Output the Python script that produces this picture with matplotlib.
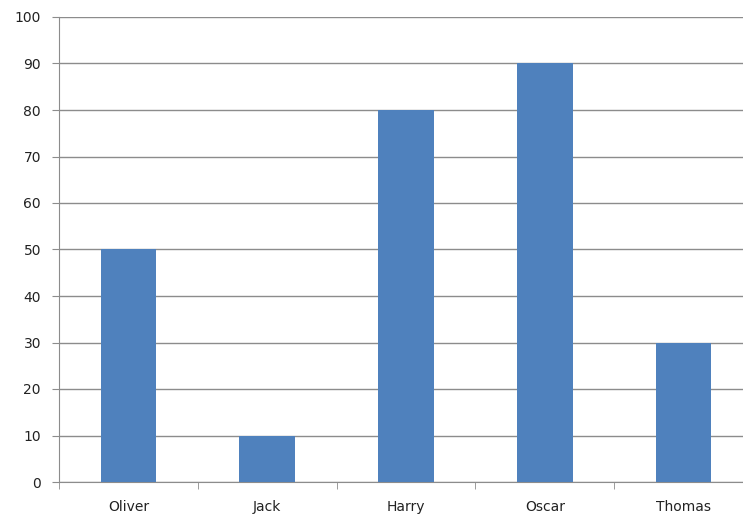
import matplotlib.pyplot as plt
import numpy as np

plt.rcParams['font.family'] = ['DejaVu Sans']

names = ['Oliver', 'Jack', 'Harry', 'Oscar', 'Thomas']
values = [50, 10, 80, 90, 30]

fig = plt.figure(figsize=(7.43, 5.2), dpi=100)
# plot area runs a little past the right edge, as in the original crop
ax = fig.add_axes([59 / 743, 38 / 520, 694 / 743, 465 / 520])

x = np.arange(len(names))
ax.bar(x, values, width=0.4, color='#4F81BD', zorder=3)

ax.set_xlim(-0.5, len(names) - 0.5)
ax.set_ylim(0, 100)
ax.set_yticks(range(0, 101, 10))
ax.yaxis.grid(True, color='#8C8C8C', linewidth=1, zorder=0)

ax.set_xticks(x)
ax.set_xticklabels(names)
ax.set_xticks(np.arange(-0.5, len(names) + 0.5, 1), minor=True)
ax.tick_params(axis='x', which='major', length=0, pad=13, labelsize=10, labelcolor='#222222')
ax.tick_params(axis='x', which='minor', length=5, color='#8C8C8C', direction='out')
ax.tick_params(axis='y', length=5, color='#8C8C8C', pad=8, labelsize=10, labelcolor='#222222')

for side in ['top', 'right']:
    ax.spines[side].set_visible(False)
for side in ['left', 'bottom']:
    ax.spines[side].set_color('#8C8C8C')

fig.savefig('out.png', dpi=100)
